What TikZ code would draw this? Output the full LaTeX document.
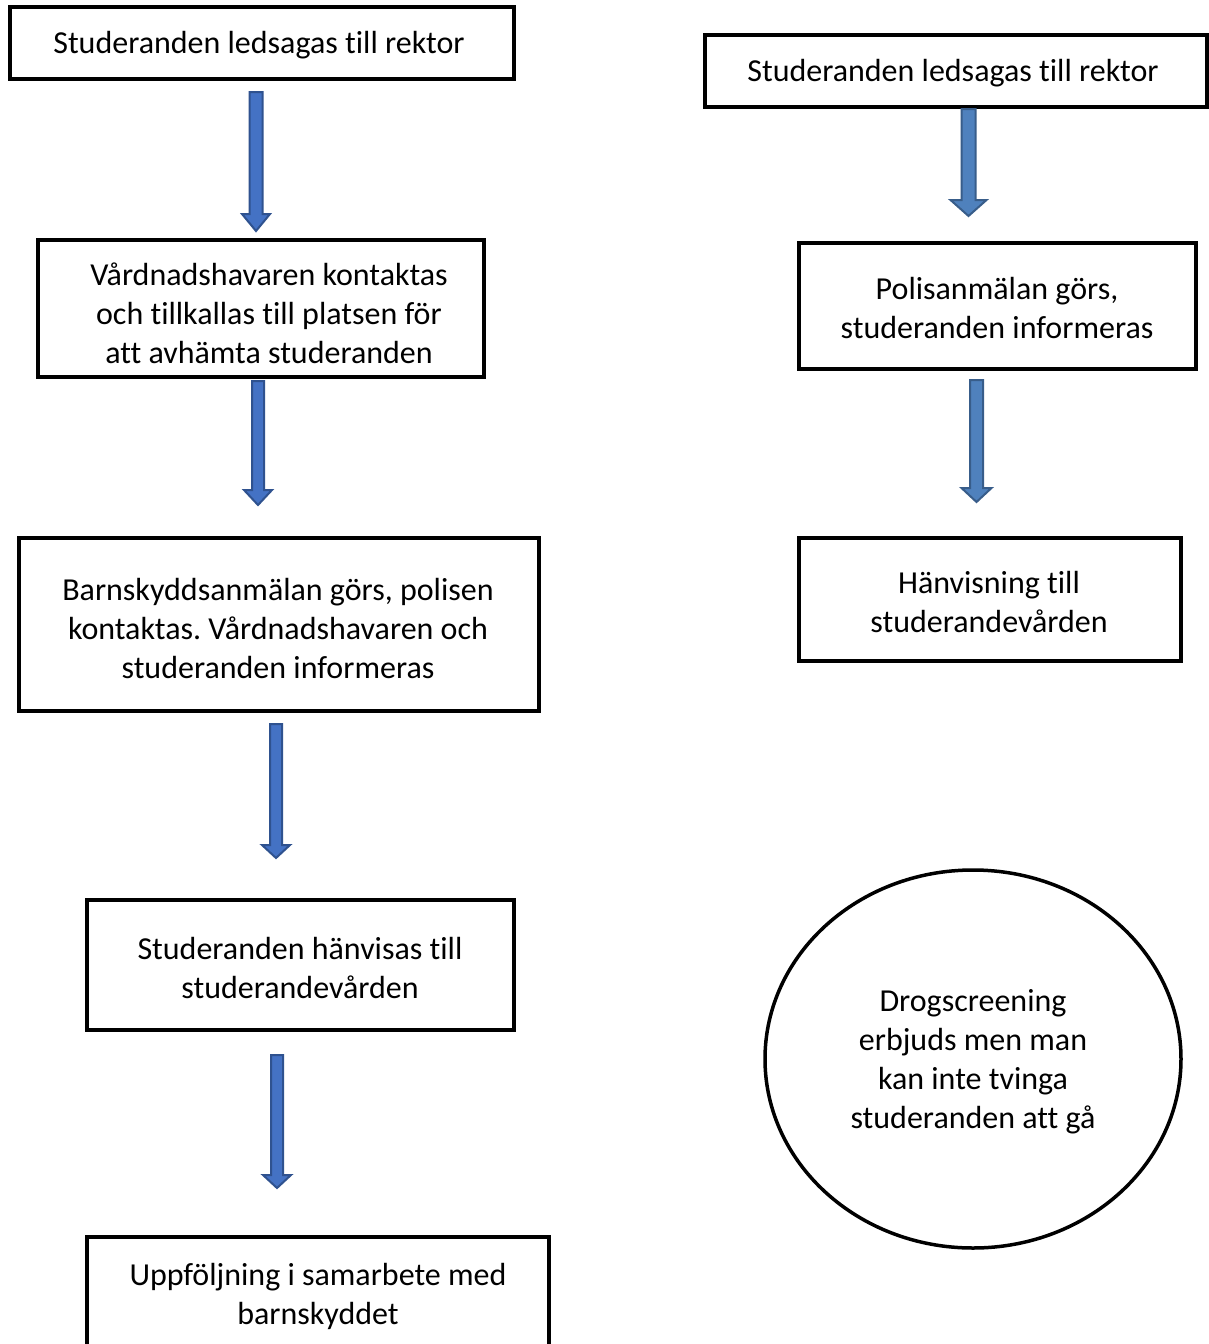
\documentclass[tikz,border=0pt]{standalone}
\usepackage{fontspec}
\setmainfont{Carlito}[Ligatures=NoCommon]
\frenchspacing
\usetikzlibrary{shapes.geometric}
\definecolor{arrowblue}{HTML}{4472C4}
\definecolor{arrowdark}{HTML}{2F528F}
\definecolor{arrowblueB}{HTML}{4F81BD}
\definecolor{arrowdarkB}{HTML}{385D8A}
\tikzset{
  box/.style={draw=black, line width=3.5pt, fill=white, inner sep=0pt},
  boxtext/.style={align=center, inner sep=0pt, font=\fontsize{32}{39}\selectfont},
  barrow/.style={fill=arrowblue, draw=arrowdark, line width=2pt, line join=miter},
  barrowB/.style={fill=arrowblueB, draw=arrowdarkB, line width=2pt, line join=miter}
}
% #1 style, #2 x center, #3 y top, #4 y head start, #5 y tip, #6 shaft half width, #7 head half width
\newcommand{\blockarr}[7]{%
  \draw[#1] (#2-#6,#3) -- (#2+#6,#3) -- (#2+#6,#4) -- (#2+#7,#4) -- (#2,#5)
    -- (#2-#7,#4) -- (#2-#6,#4) -- cycle;}
\begin{document}
\begin{tikzpicture}[x=1pt,y=-1pt]
\useasboundingbox (0,0) rectangle (1209,1344);
\clip (0,0) rectangle (1209,1344);
\fill[white] (0,0) rectangle (1209,1344);

% left column
\node[box, minimum width=504pt, minimum height=72pt] (b1) at (262,43) {};
\node[boxtext] (b1t) at (259,45) {Studeranden ledsagas till rektor};
\node[box, minimum width=446pt, minimum height=137pt] (b2) at (261,308.5) {};
\node[boxtext] (b2t) at (269,313) {Vårdnadshavaren kontaktas\\och tillkallas till platsen för\\att avhämta studeranden};
\node[box, minimum width=520pt, minimum height=173pt] (b3) at (279,624.5) {};
\node[boxtext] (b3t) at (278,628) {Barnskyddsanmälan görs, polisen\\kontaktas. Vårdnadshavaren och\\studeranden informeras};
\node[box, minimum width=427pt, minimum height=130pt] (b4) at (300.5,965) {};
\node[boxtext] (b4t) at (300,968) {Studeranden hänvisas till\\studerandevården};
\node[box, minimum width=462pt, minimum height=140pt] (b5) at (318,1307) {};
\node[boxtext] (b5t) at (318,1296) {Uppföljning i samarbete med\\barnskyddet};

\blockarr{barrow}{256}{92}{214}{231}{6.5}{14}
\blockarr{barrow}{258}{381}{490}{505}{6}{14}
\blockarr{barrow}{276}{724}{845}{858}{6}{14}
\blockarr{barrow}{277}{1055}{1175}{1188}{6}{14}

% right column
\node[box, minimum width=502pt, minimum height=72pt] (r1) at (956,71) {};
\node[boxtext] (r1t) at (953,73) {Studeranden ledsagas till rektor};
\node[box, minimum width=397pt, minimum height=126pt] (r2) at (997.5,306) {};
\node[boxtext] (r2t) at (997,308) {Polisanmälan görs,\\studeranden informeras};
\node[box, minimum width=382pt, minimum height=123pt] (r3) at (990,599.5) {};
\node[boxtext] (r3t) at (989,601.5) {Hänvisning till\\studerandevården};
\node[ellipse, draw=black, line width=3.5pt, minimum width=416pt, minimum height=378pt, inner sep=0pt] (c1) at (973,1059) {};
\node[boxtext] (c1t) at (973,1062) {Drogscreening\\erbjuds men man\\kan inte tvinga\\studeranden att gå};

\blockarr{barrowB}{968.5}{109}{200}{216}{7}{18}
\blockarr{barrowB}{976.5}{380}{488}{502}{6.5}{15}
\end{tikzpicture}
\end{document}
